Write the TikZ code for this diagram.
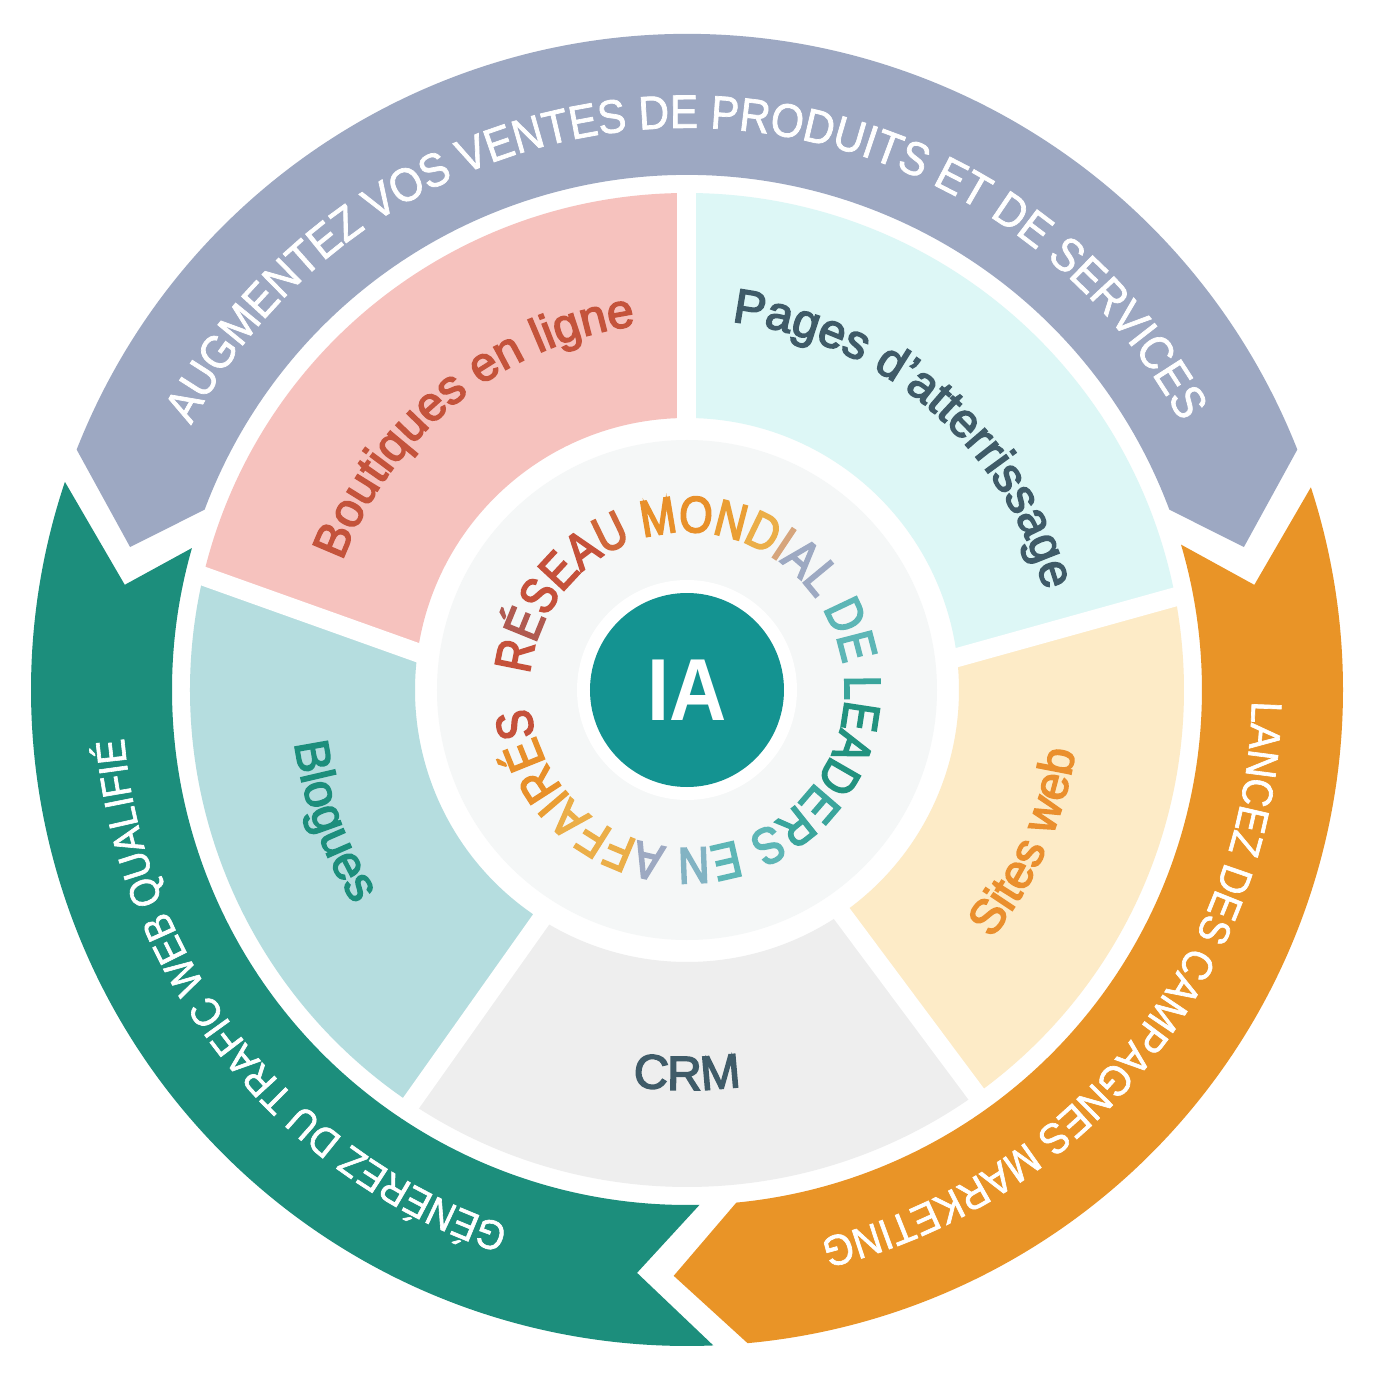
\documentclass[tikz,border=0pt]{standalone}
\usepackage{fontspec}
\setmainfont{Liberation Sans}
\newfontfamily\BandFont{Liberation Sans}[FakeStretch=0.9,FakeBold=1.5]
\newfontfamily\CoreFont{Liberation Sans Bold}[FakeStretch=0.9]
\newfontfamily\RingFont{Liberation Sans}[FakeStretch=0.84,FakeBold=3.5]
\newfontfamily\LabelFont{Liberation Sans}[FakeBold=3.2]
\usepackage{xcolor}
\definecolor{ColGrey}{HTML}{9DA8C2}
\definecolor{ColTeal}{HTML}{1C8E7C}
\definecolor{ColOrange}{HTML}{E99427}
\definecolor{ColPink}{HTML}{F6C2BE}
\definecolor{ColCyan}{HTML}{DDF7F6}
\definecolor{ColYellow}{HTML}{FDEBC7}
\definecolor{ColCrm}{HTML}{EEEEEE}
\definecolor{ColBlue}{HTML}{B5DDDF}
\definecolor{ColCore}{HTML}{F5F7F7}
\definecolor{ColIA}{HTML}{149391}
\definecolor{ColRust}{HTML}{C4533B}
\definecolor{ColSlate}{HTML}{3F5B68}
\definecolor{ColSun}{HTML}{EA8F2D}
\definecolor{RingA}{HTML}{C5513A}
\definecolor{RingB}{HTML}{B05A50}
\definecolor{RingC}{HTML}{D0683A}
\definecolor{RingD}{HTML}{E8902A}
\definecolor{RingE}{HTML}{EA9E34}
\definecolor{RingF}{HTML}{EBAE48}
\definecolor{RingG}{HTML}{D6A57C}
\definecolor{RingH}{HTML}{9DA9C2}
\definecolor{RingI}{HTML}{5DB6B6}
\definecolor{RingJ}{HTML}{3AA59C}
\definecolor{RingK}{HTML}{22927F}
\definecolor{RingL}{HTML}{82B3C3}
\usetikzlibrary{decorations.text}
\usetikzlibrary{calc}
\tikzstyle{Gap}=[draw=white,line width=19pt]
\tikzstyle{Curved}=[decorate,decoration={text along path,text align=center}]
\newcommand{\Bw}[1]{\BandFont\fontsize{#1}{#1}\selectfont\color{white}}
\newcommand{\Lb}[1]{\LabelFont\fontsize{48}{48}\selectfont\color{#1}}
\newcommand{\Rc}[1]{\RingFont\fontsize{51}{51}\selectfont\color{#1}}

\begin{document}
\begin{tikzpicture}[x=1pt,y=1pt]
    \useasboundingbox[fill=white](-687,-692)rectangle(688,690);
    % inner ring of five sectors
    \fill[ColPink](90:497)arc[start angle=90,end angle=166.75,radius=497]
        --(172.1:272)arc[start angle=172.1,end angle=90,radius=272]--cycle;
    \fill[ColBlue](166.75:497)arc[start angle=166.75,end angle=236.25,radius=497]
        --(237.55:272)arc[start angle=237.55,end angle=172.1,radius=272]--cycle;
    \fill[ColCrm](236.25:497)arc[start angle=236.25,end angle=305.6,radius=497]
        --(304.7:272)arc[start angle=304.7,end angle=237.55,radius=272]--cycle;
    \fill[ColYellow](305.6:497)arc[start angle=305.6,end angle=370.8,radius=497]
        --(366.85:272)arc[start angle=366.85,end angle=304.7,radius=272]--cycle;
    \fill[ColCyan](10.8:497)arc[start angle=10.8,end angle=90,radius=497]
        --(90:272)arc[start angle=90,end angle=6.85,radius=272]--cycle;
    \coordinate(g1i)at(90:272);\coordinate(g1o)at(90:497);
    \coordinate(g2i)at(172.1:272);\coordinate(g2o)at(166.75:497);
    \coordinate(g3i)at(237.55:272);\coordinate(g3o)at(236.25:497);
    \coordinate(g4i)at(304.7:272);\coordinate(g4o)at(305.6:497);
    \coordinate(g5i)at(6.85:272);\coordinate(g5o)at(10.8:497);
    \draw[Gap]($(g1i)!-0.1!(g1o)$)--($(g1i)!1.05!(g1o)$);
    \draw[Gap]($(g2i)!-0.1!(g2o)$)--($(g2i)!1.05!(g2o)$);
    \draw[Gap]($(g3i)!-0.1!(g3o)$)--($(g3i)!1.05!(g3o)$);
    \draw[Gap]($(g4i)!-0.1!(g4o)$)--($(g4i)!1.05!(g4o)$);
    \draw[Gap]($(g5i)!-0.1!(g5o)$)--($(g5i)!1.05!(g5o)$);
    % outer arrows
    \fill[ColGrey](158.5:656)arc[start angle=158.5,end angle=21.5,radius=656]
        --(14.4:575)--(20.5:515)arc[start angle=20.5,end angle=159.5,radius=515]
        --(165.6:575)--cycle;
    \fill[ColTeal](161.5:656)arc[start angle=161.5,end angle=272.3,radius=656]
        --(265.1:585)--(271.4:515)arc[start angle=271.4,end angle=164,radius=515]
        --(169.4:572)--cycle;
    \fill[ColOrange](18:656)arc[start angle=18,end angle=-84.7,radius=656]
        --(-91.3:586)--(-84.5:515)arc[start angle=-84.5,end angle=16.4,radius=515]
        --(10.5:577)--cycle;
    % core
    \fill[ColCore](0,0)circle[radius=250];
    \fill[white](0,0)circle[radius=110];
    \node[circle,fill=ColIA,minimum size=194pt,inner sep=0pt,text=white,
        font=\CoreFont\fontsize{88}{88}\selectfont](ia)at(0,0){IA};
    % texts
    \path[Curved,decoration={text={|\Bw{47}|AUGMENTEZ VOS VENTES DE PRODUITS ET DE SERVICES}}]
        (165.2:562)arc[start angle=165.2,end angle=15.2,radius=562];
    \path[Curved,decoration={text={|\Bw{41}|GÉNÉREZ DU TRAFIC WEB QUALIFIÉ}}]
        (268.25:565)arc[start angle=268.25,end angle=168.25,radius=565];
    \path[Curved,decoration={text={|\Bw{43}|LANCEZ DES CAMPAGNES MARKETING}}]
        (11.25:565)arc[start angle=11.25,end angle=-88.75,radius=565];
    \path[Curved,decoration={text={|\Lb{ColRust}|Boutiques en ligne}}]
        (168.75:368)arc[start angle=168.75,end angle=88.75,radius=368];
    \path[Curved,decoration={text={|\Lb{ColSlate}|Pages d’atterrissage}}]
        (89.3:371)arc[start angle=89.3,end angle=9.3,radius=371];
    \path[Curved,decoration={text={|\Lb{ColSun}|Sites web}}]
        (-64.1:393)arc[start angle=-64.1,end angle=15.9,radius=393];
    \path[Curved,decoration={text={|\Lb{ColSlate}|CRM}}]
        (-110:400)arc[start angle=-110,end angle=-70,radius=400];
    \path[Curved,decoration={text={|\Lb{ColTeal}|Blogues}}]
        (170.25:396)arc[start angle=170.25,end angle=230.25,radius=396];
    \path[Curved,decoration={text={|\Rc{RingA}|R|\Rc{RingB}|É|\Rc{RingA}|SEA|\Rc{RingC}|U
        |\Rc{RingD}|MO|\Rc{RingE}|N|\Rc{RingF}|D|\Rc{RingG}|I|\Rc{RingH}|AL
        |\Rc{RingI}|DE |\Rc{RingJ}|L|\Rc{RingK}|EAD|\Rc{RingJ}|ER|\Rc{RingI}|S
        |\Rc{RingI}|E|\Rc{RingL}|N |\Rc{RingH}|A|\Rc{RingF}|FFA|\Rc{RingE}|I|\Rc{RingD}|RÉ|\Rc{RingA}|S}}]
        (180.3:158)arc[start angle=180.3,end angle=-179.7,radius=158];
\end{tikzpicture}
\end{document}
